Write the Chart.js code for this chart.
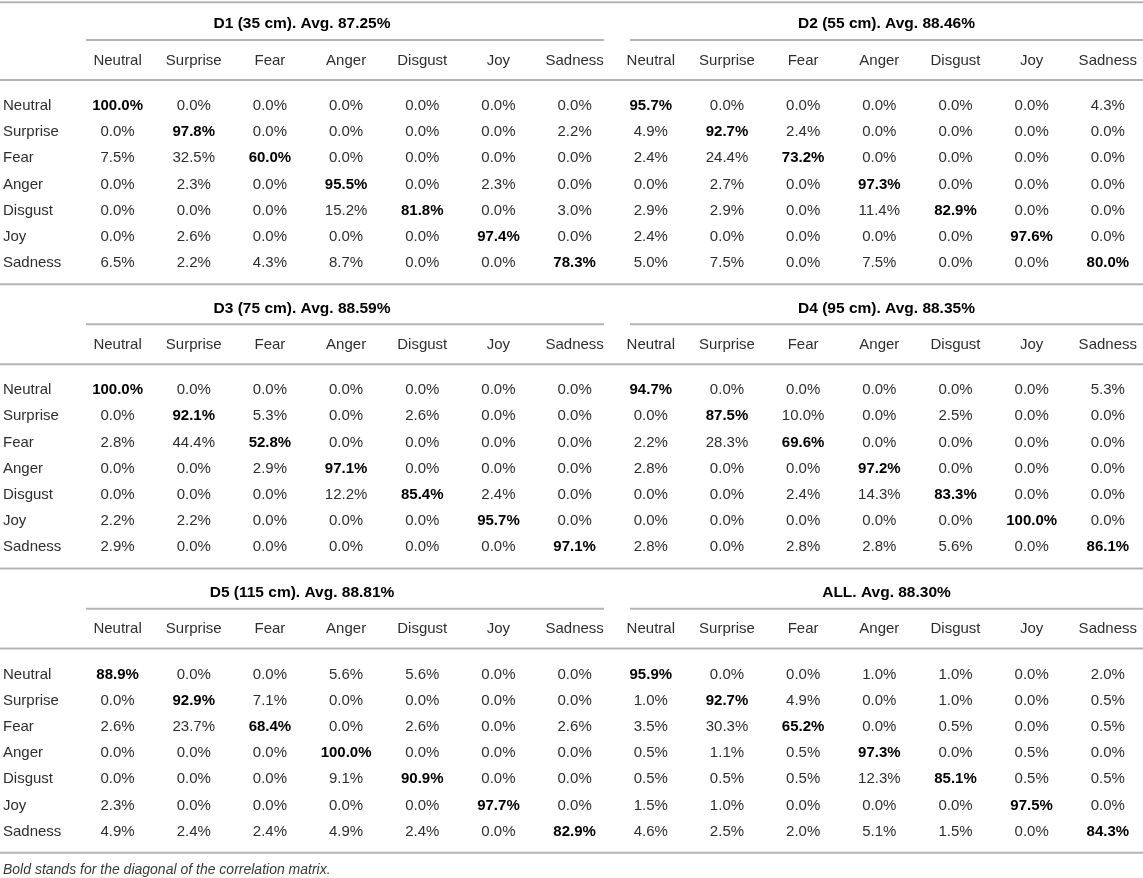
<!DOCTYPE html>
<html>
<head>
<meta charset="utf-8">
<script src="https://cdn.jsdelivr.net/npm/chart.js@4.4.1/dist/chart.umd.min.js"></script>
<style>
  html, body { margin: 0; padding: 0; background: #fff; }
  #wrap { width: 1143px; height: 878px; }
</style>
</head>
<body>
<div id="wrap"><canvas id="matrix" width="1143" height="878"></canvas></div>
<script>
// Table content
const emotions = ['Neutral', 'Surprise', 'Fear', 'Anger', 'Disgust', 'Joy', 'Sadness'];
const panelTitles = [
  'D1 (35 cm). Avg. 87.25%', 'D2 (55 cm). Avg. 88.46%',
  'D3 (75 cm). Avg. 88.59%', 'D4 (95 cm). Avg. 88.35%',
  'D5 (115 cm). Avg. 88.81%', 'ALL. Avg. 88.30%'
];
const footnote = 'Bold stands for the diagonal of the correlation matrix.';

// rows = true class, columns = predicted class (%)
const d1 = [
  [100.0, 0.0, 0.0, 0.0, 0.0, 0.0, 0.0],
  [0.0, 97.8, 0.0, 0.0, 0.0, 0.0, 2.2],
  [7.5, 32.5, 60.0, 0.0, 0.0, 0.0, 0.0],
  [0.0, 2.3, 0.0, 95.5, 0.0, 2.3, 0.0],
  [0.0, 0.0, 0.0, 15.2, 81.8, 0.0, 3.0],
  [0.0, 2.6, 0.0, 0.0, 0.0, 97.4, 0.0],
  [6.5, 2.2, 4.3, 8.7, 0.0, 0.0, 78.3]
];
const d2 = [
  [95.7, 0.0, 0.0, 0.0, 0.0, 0.0, 4.3],
  [4.9, 92.7, 2.4, 0.0, 0.0, 0.0, 0.0],
  [2.4, 24.4, 73.2, 0.0, 0.0, 0.0, 0.0],
  [0.0, 2.7, 0.0, 97.3, 0.0, 0.0, 0.0],
  [2.9, 2.9, 0.0, 11.4, 82.9, 0.0, 0.0],
  [2.4, 0.0, 0.0, 0.0, 0.0, 97.6, 0.0],
  [5.0, 7.5, 0.0, 7.5, 0.0, 0.0, 80.0]
];
const d3 = [
  [100.0, 0.0, 0.0, 0.0, 0.0, 0.0, 0.0],
  [0.0, 92.1, 5.3, 0.0, 2.6, 0.0, 0.0],
  [2.8, 44.4, 52.8, 0.0, 0.0, 0.0, 0.0],
  [0.0, 0.0, 2.9, 97.1, 0.0, 0.0, 0.0],
  [0.0, 0.0, 0.0, 12.2, 85.4, 2.4, 0.0],
  [2.2, 2.2, 0.0, 0.0, 0.0, 95.7, 0.0],
  [2.9, 0.0, 0.0, 0.0, 0.0, 0.0, 97.1]
];
const d4 = [
  [94.7, 0.0, 0.0, 0.0, 0.0, 0.0, 5.3],
  [0.0, 87.5, 10.0, 0.0, 2.5, 0.0, 0.0],
  [2.2, 28.3, 69.6, 0.0, 0.0, 0.0, 0.0],
  [2.8, 0.0, 0.0, 97.2, 0.0, 0.0, 0.0],
  [0.0, 0.0, 2.4, 14.3, 83.3, 0.0, 0.0],
  [0.0, 0.0, 0.0, 0.0, 0.0, 100.0, 0.0],
  [2.8, 0.0, 2.8, 2.8, 5.6, 0.0, 86.1]
];
const d5 = [
  [88.9, 0.0, 0.0, 5.6, 5.6, 0.0, 0.0],
  [0.0, 92.9, 7.1, 0.0, 0.0, 0.0, 0.0],
  [2.6, 23.7, 68.4, 0.0, 2.6, 0.0, 2.6],
  [0.0, 0.0, 0.0, 100.0, 0.0, 0.0, 0.0],
  [0.0, 0.0, 0.0, 9.1, 90.9, 0.0, 0.0],
  [2.3, 0.0, 0.0, 0.0, 0.0, 97.7, 0.0],
  [4.9, 2.4, 2.4, 4.9, 2.4, 0.0, 82.9]
];
const all = [
  [95.9, 0.0, 0.0, 1.0, 1.0, 0.0, 2.0],
  [1.0, 92.7, 4.9, 0.0, 1.0, 0.0, 0.5],
  [3.5, 30.3, 65.2, 0.0, 0.5, 0.0, 0.5],
  [0.5, 1.1, 0.5, 97.3, 0.0, 0.5, 0.0],
  [0.5, 0.5, 0.5, 12.3, 85.1, 0.5, 0.5],
  [1.5, 1.0, 0.0, 0.0, 0.0, 97.5, 0.0],
  [4.6, 2.5, 2.0, 5.1, 1.5, 0.0, 84.3]
];
const panels = [d1, d2, d3, d4, d5, all];

// Layout, in scale units (x: one column = 1, y: one table row = 1)
const X_MIN = -0.544, X_MAX = 14.462;
const Y_MAX = 33.51;
const LABEL_X = -0.505;          // left edge of the row labels
const BAND = 10.85;              // height of one pair of panels
const TITLE_Y = 0.92, TITLE_RULE_Y = 1.53, HEAD_Y = 2.32, HEAD_RULE_Y = 3.05, ROW0_Y = 4.04;
const TOP_RULE_Y = 0.09, NOTE_Y = 33.2;
const RULE_SPANS = [[0.585, 7.386], [7.727, X_MAX]];

const FONT = '"Liberation Sans", Arial, Helvetica, sans-serif';
const TEXT = '#2e2e2e', BOLD = '#000', RULE = '#b4b4b4';

const datasets = panels.map((m, p) => {
  const side = p % 2, band = Math.floor(p / 2);
  const pts = [];
  m.forEach((row, i) => row.forEach((v, j) => {
    pts.push({ x: side * 7 + j + 1, y: band * BAND + ROW0_Y + i, v: v, bold: i === j });
  }));
  return { label: panelTitles[p], data: pts, pointRadius: 0, pointHoverRadius: 0 };
});

// Draws the text of the cells and the table furniture on the chart scales
const tablePlugin = {
  id: 'tableText',
  afterDatasetsDraw(chart) {
    const ctx = chart.ctx, xs = chart.scales.x, ys = chart.scales.y;
    const px = v => xs.getPixelForValue(v), py = v => ys.getPixelForValue(v);
    ctx.save();

    const rule = (x0, x1, yv) => {
      ctx.strokeStyle = RULE;
      ctx.lineWidth = 2;
      ctx.beginPath();
      ctx.moveTo(px(x0), py(yv));
      ctx.lineTo(px(x1), py(yv));
      ctx.stroke();
    };

    rule(X_MIN, X_MAX, TOP_RULE_Y);
    ctx.textBaseline = 'middle';

    for (let band = 0; band < 3; band++) {
      const base = band * BAND;
      rule(X_MIN, X_MAX, base + HEAD_RULE_Y);
      rule(X_MIN, X_MAX, base + BAND);
      for (let side = 0; side < 2; side++) {
        const span = RULE_SPANS[side];
        rule(span[0], span[1], base + TITLE_RULE_Y);
        // title centred over the panel
        const left = side === 0 ? X_MIN : span[0];
        ctx.font = 'bold 15.5px ' + FONT;
        ctx.fillStyle = BOLD;
        ctx.textAlign = 'center';
        ctx.fillText(panelTitles[band * 2 + side], (px(left) + px(span[1])) / 2, py(base + TITLE_Y));
        // column headers
        ctx.font = '15px ' + FONT;
        ctx.fillStyle = TEXT;
        emotions.forEach((e, j) => ctx.fillText(e, px(side * 7 + j + 1), py(base + HEAD_Y)));
      }
      // row labels
      ctx.textAlign = 'left';
      emotions.forEach((e, i) => ctx.fillText(e, px(LABEL_X), py(base + ROW0_Y + i)));
    }

    // cell values at the points placed by the scales
    ctx.textAlign = 'center';
    chart.data.datasets.forEach((ds, di) => {
      chart.getDatasetMeta(di).data.forEach((el, k) => {
        const d = ds.data[k];
        ctx.font = (d.bold ? 'bold ' : '') + '15px ' + FONT;
        ctx.fillStyle = d.bold ? BOLD : TEXT;
        ctx.fillText(d.v.toFixed(1) + '%', el.x, el.y);
      });
    });

    ctx.textAlign = 'left';
    ctx.font = 'italic 14px ' + FONT;
    ctx.fillStyle = '#3a3a3a';
    ctx.fillText(footnote, px(LABEL_X), py(NOTE_Y));
    ctx.restore();
  }
};

new Chart(document.getElementById('matrix'), {
  type: 'scatter',
  data: { datasets: datasets },
  options: {
    responsive: false,
    animation: false,
    layout: { padding: 0 },
    events: [],
    scales: {
      x: { type: 'linear', display: false, min: X_MIN, max: X_MAX },
      y: { type: 'linear', display: false, min: 0, max: Y_MAX, reverse: true }
    },
    plugins: {
      legend: { display: false },
      tooltip: { enabled: false }
    }
  },
  plugins: [tablePlugin]
});
</script>
</body>
</html>
